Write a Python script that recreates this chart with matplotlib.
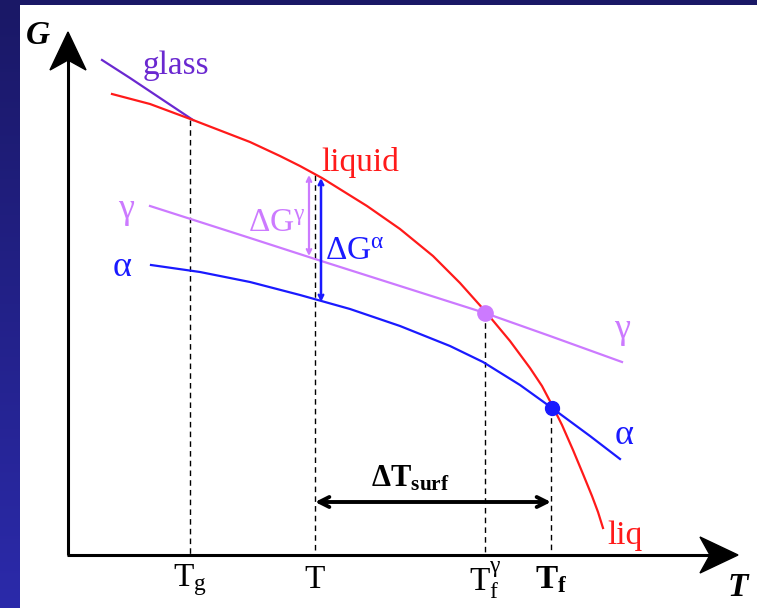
import numpy as np
import matplotlib.pyplot as plt
from matplotlib.patches import Polygon
from matplotlib.colors import LinearSegmentedColormap

plt.rcParams['font.family'] = ['Liberation Serif', 'DejaVu Serif']
plt.rcParams['mathtext.fontset'] = 'custom'
plt.rcParams['mathtext.rm'] = 'Liberation Serif'
plt.rcParams['mathtext.it'] = 'Liberation Serif:italic'
plt.rcParams['mathtext.bf'] = 'Liberation Serif:bold'

# free-energy curves, (T, G) in drawing units (G grows downward on screen)
glass_T = [102, 130, 160, 193]
glass_G = [60, 78, 98, 120]
liquid_T = [112, 150, 193, 250, 280, 300, 322, 367, 400, 433, 460, 485, 510,
            530, 542, 552, 562, 573, 583, 592, 598, 603]
liquid_G = [94, 104, 120, 142, 156, 166, 178, 206, 229, 256, 283, 311, 341,
            368, 386, 405, 425, 450, 474, 496, 512, 528]
gamma_T = [150, 250, 315, 400, 485, 550, 622]
gamma_G = [206, 238, 259, 286, 313, 336, 362]
alpha_T = [151, 200, 250, 300, 350, 400, 450, 483, 520, 552, 590, 620]
alpha_G = [265, 272, 282, 295, 309, 326, 346, 362, 385, 408, 436, 459]

# characteristic temperatures on the T axis
tick_T = [190, 315, 485, 551]
tick_labels = [r'$\mathrm{T_g}$', 'T', r'$\mathrm{T_f^{γ}}$', r'$\mathbf{T_f}$']
tick_top = [120, 175, 313, 408]

# crossing points
gamma_melt = (485, 313)
alpha_melt = (552, 408)

axis_T0, axis_G0 = 68, 555
axis_T_end, axis_G_top = 738, 32

red = '#ff1a1a'
glass_c = '#6a28d0'
gamma_c = '#cc7aff'
alpha_c = '#1a1aff'

W, H = 757, 608
fig = plt.figure(figsize=(W / 100, H / 100), dpi=100)

# navy frame with a vertical gradient
bg = fig.add_axes([0, 0, 1, 1])
grad = np.linspace(0, 1, 256).reshape(-1, 1)
navy = LinearSegmentedColormap.from_list('navy', ['#1a1866', '#2b2aaa'])
bg.imshow(grad, aspect='auto', cmap=navy, extent=[0, 1, 0, 1], origin='upper')
bg.axis('off')

ax = fig.add_axes([20 / W, 0, (W - 20) / W, (H - 5) / H])
ax.set_facecolor('white')
ax.set_xlim(20, W)
ax.set_ylim(H, 5)
for s in ax.spines.values():
    s.set_visible(False)
ax.set_xticks([])
ax.set_yticks([])

# axes with notched arrowheads
ax.plot([axis_T0, axis_T0], [axis_G0, axis_G_top + 20], color='black', lw=2.2,
        solid_capstyle='butt', zorder=3)
ax.plot([axis_T0 - 1, axis_T_end - 20], [axis_G0, axis_G0], color='black', lw=2.2,
        solid_capstyle='butt', zorder=3)
head_len, head_w, notch = 38, 18, 10
ax.add_patch(Polygon([(axis_T0, axis_G_top),
                      (axis_T0 - head_w, axis_G_top + head_len),
                      (axis_T0, axis_G_top + head_len - notch),
                      (axis_T0 + head_w, axis_G_top + head_len)],
                     closed=True, color='black', zorder=4))
ax.add_patch(Polygon([(axis_T_end, axis_G0),
                      (axis_T_end - head_len, axis_G0 - head_w),
                      (axis_T_end - head_len + notch, axis_G0),
                      (axis_T_end - head_len, axis_G0 + head_w)],
                     closed=True, color='black', zorder=4))
ax.text(38, 36, 'G', fontsize=24, fontweight='bold', fontstyle='italic',
        ha='center', va='center')
ax.text(738, 588, 'T', fontsize=24, fontweight='bold', fontstyle='italic',
        ha='center', va='center')

# dashed drop lines and tick labels
for t, top, lab in zip(tick_T, tick_top, tick_labels):
    ax.plot([t, t], [top, axis_G0], color='black', lw=1, ls=(0, (4, 3)), zorder=1)
    ax.text(t, 580, lab, fontsize=24, ha='center', va='center')

# curves
line_kw = dict(lw=1.6, zorder=2, solid_joinstyle='round')
ax.plot(glass_T, glass_G, color=glass_c, **line_kw)
ax.plot(liquid_T, liquid_G, color=red, **line_kw)
ax.plot(gamma_T, gamma_G, color=gamma_c, **line_kw)
ax.plot(alpha_T, alpha_G, color=alpha_c, **line_kw)

ax.plot(*gamma_melt, 'o', color=gamma_c, ms=11, zorder=5)
ax.plot(*alpha_melt, 'o', color=alpha_c, ms=10, zorder=5)

# curve labels
ax.text(176, 66, 'glass', color=glass_c, fontsize=24, ha='center', va='center')
ax.text(360, 162, 'liquid', color=red, fontsize=24, ha='center', va='center')
ax.text(126, 210, 'γ', color=gamma_c, fontsize=26, ha='center', va='center')
ax.text(122, 268, 'α', color=alpha_c, fontsize=26, ha='center', va='center')
ax.text(622, 330, 'γ', color=gamma_c, fontsize=26, ha='center', va='center')
ax.text(624, 435, 'α', color=alpha_c, fontsize=26, ha='center', va='center')
ax.text(625, 536, 'liq', color=red, fontsize=24, ha='center', va='center')

# driving forces
ax.annotate('', xy=(309, 175), xytext=(309, 256),
            arrowprops=dict(arrowstyle='<->', color=gamma_c, lw=1.6,
                            shrinkA=0, shrinkB=0, mutation_scale=8))
ax.annotate('', xy=(321, 178), xytext=(321, 302),
            arrowprops=dict(arrowstyle='<->', color=alpha_c, lw=1.8,
                            shrinkA=0, shrinkB=0, mutation_scale=8))
ax.text(277, 224, r'$\Delta\mathrm{G}^{\mathrm{γ}}$', color=gamma_c, fontsize=24,
        ha='center', va='center')
ax.text(355, 252, r'$\Delta\mathrm{G}^{\mathrm{α}}$', color=alpha_c, fontsize=24,
        ha='center', va='center')

# undercooling span
ax.annotate('', xy=(315, 502), xytext=(551, 502),
            arrowprops=dict(arrowstyle='<->', color='black', lw=2.8,
                            shrinkA=0, shrinkB=0, mutation_scale=18))
ax.text(410, 479, r'$\mathbf{\Delta T_{surf}}$', fontsize=22, ha='center', va='center')

fig.savefig('out.png', dpi=100)
